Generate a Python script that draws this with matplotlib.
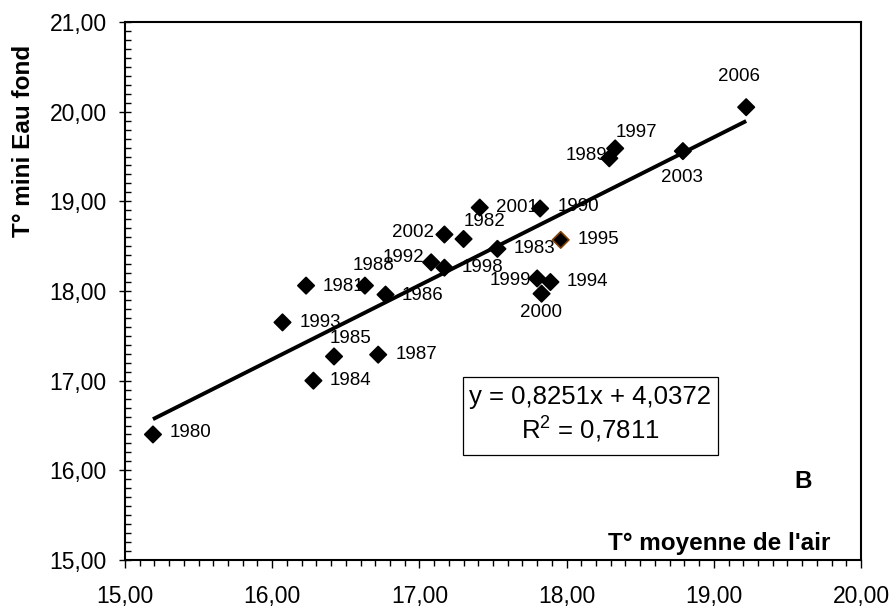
import matplotlib
matplotlib.use("Agg")
import matplotlib.pyplot as plt
import numpy as np
from matplotlib.patches import Rectangle
from matplotlib.ticker import MultipleLocator, FuncFormatter

plt.rcParams['font.family'] = ['Liberation Sans', 'DejaVu Sans']
plt.rcParams['mathtext.fontset'] = 'custom'
plt.rcParams['mathtext.rm'] = 'Liberation Sans'

# yearly values: mean air temperature vs. minimum bottom water temperature
years = ['1980', '1981', '1982', '1983', '1984', '1985', '1986', '1987',
         '1988', '1989', '1990', '1992', '1993', '1994', '1995', '1997',
         '1998', '1999', '2000', '2001', '2002', '2003', '2006']
t_air = [15.19, 16.23, 17.30, 17.53, 16.28, 16.42, 16.77, 16.72,
         16.63, 18.29, 17.82, 17.08, 16.07, 17.89, 17.96, 18.33,
         17.17, 17.80, 17.83, 17.41, 17.17, 18.79, 19.22]
t_eau = [16.40, 18.06, 18.58, 18.47, 17.00, 17.27, 17.96, 17.29,
         18.06, 19.48, 18.92, 18.32, 17.65, 18.10, 18.57, 19.59,
         18.26, 18.14, 17.97, 18.93, 18.63, 19.56, 20.05]

slope = 0.8251
intercept = 4.0372
r2 = 0.7811

# label offsets in pixels (x right, y up)
label_offsets = {
    '1980': (38, 2), '1981': (37, -1), '1982': (21, 17), '1983': (37, 0),
    '1984': (37, 0), '1985': (16, 18), '1986': (37, -1), '1987': (38, 0),
    '1988': (9, 20), '1989': (-23, 3), '1990': (38, 2), '1992': (-28, 5),
    '1993': (38, 0), '1994': (37, 1), '1995': (38, 0), '1997': (21, 16),
    '1998': (38, 0), '1999': (-27, -2), '2000': (-1, -19), '2001': (37, 0),
    '2002': (-31, 2), '2003': (-1, -26), '2006': (-7, 31),
}

W, H = 896, 607
L, R, T, B = 125, 861, 22, 560


def ax_xy(px, py):
    # pixel position in the figure -> axes fraction
    return (px - L) / (R - L), (B - py) / (B - T)


fig = plt.figure(figsize=(W / 100, H / 100), dpi=100, facecolor='white')
ax = fig.add_axes([L / W, 1 - B / H, (R - L) / W, (B - T) / H])

# trend line over the data range
xl = np.array([min(t_air), max(t_air)])
ax.plot(xl, slope * xl + intercept, color='black', lw=2.8, zorder=3,
        solid_capstyle='butt')

edge = ['#804000' if y == '1995' else 'black' for y in years]
ax.scatter(t_air, t_eau, marker='D', s=70, c='black', edgecolors=edge,
           linewidths=1.2, zorder=4)

for yr, xv, yv in zip(years, t_air, t_eau):
    dx, dy = label_offsets[yr]
    ax.annotate(yr, (xv, yv), xytext=(dx, dy), textcoords='offset pixels',
                ha='center', va='center', fontsize=13.5, zorder=2)

# regression equation in a framed box
x0, y0 = ax_xy(463, 455)
x1, y1 = ax_xy(718, 377)
ax.add_patch(Rectangle((x0, y0), x1 - x0, y1 - y0, transform=ax.transAxes,
                       fc='white', ec='black', lw=0.9, zorder=5))
eq1 = 'y = {:.4f}x + {:.4f}'.format(slope, intercept).replace('.', ',')
eq2 = r'R$^2$ = ' + '{:.4f}'.format(r2).replace('.', ',')
ax.text(*ax_xy(590, 397), eq1, transform=ax.transAxes, ha='center',
        va='center', fontsize=18.5, zorder=6)
ax.text(*ax_xy(590, 429), eq2, transform=ax.transAxes, ha='center',
        va='center', fontsize=18.5, zorder=6)

ax.text(*ax_xy(830, 550), "T° moyenne de l'air", transform=ax.transAxes,
        ha='right', va='baseline', fontsize=17.5, fontweight='bold')
ax.text(*ax_xy(803, 481), 'B', transform=ax.transAxes,
        ha='center', va='center', fontsize=17.5, fontweight='bold')
fig.text(24 / W, 1 - 141 / H, 'T° mini Eau fond', rotation=90,
         ha='center', va='center', fontsize=17.5, fontweight='bold')

ax.set_xlim(15, 20)
ax.set_ylim(15, 21)
ax.xaxis.set_major_locator(MultipleLocator(1))
ax.xaxis.set_minor_locator(MultipleLocator(0.1))
ax.yaxis.set_major_locator(MultipleLocator(1))
ax.yaxis.set_minor_locator(MultipleLocator(0.1))
fmt = FuncFormatter(lambda v, p: '{:.2f}'.format(v).replace('.', ','))
ax.xaxis.set_major_formatter(fmt)
ax.yaxis.set_major_formatter(fmt)

ax.tick_params(axis='x', which='major', direction='out', length=5.8,
               width=1, pad=12, labelsize=16.5)
ax.tick_params(axis='x', which='minor', direction='out', length=4, width=1)
ax.tick_params(axis='y', which='major', direction='inout', length=8.5,
               width=1, pad=9, labelsize=16.5)
ax.tick_params(axis='y', which='minor', direction='in', length=4, width=1)

for s in ax.spines.values():
    s.set_linewidth(1.5)

fig.savefig('out.png', dpi=100, facecolor='white')
